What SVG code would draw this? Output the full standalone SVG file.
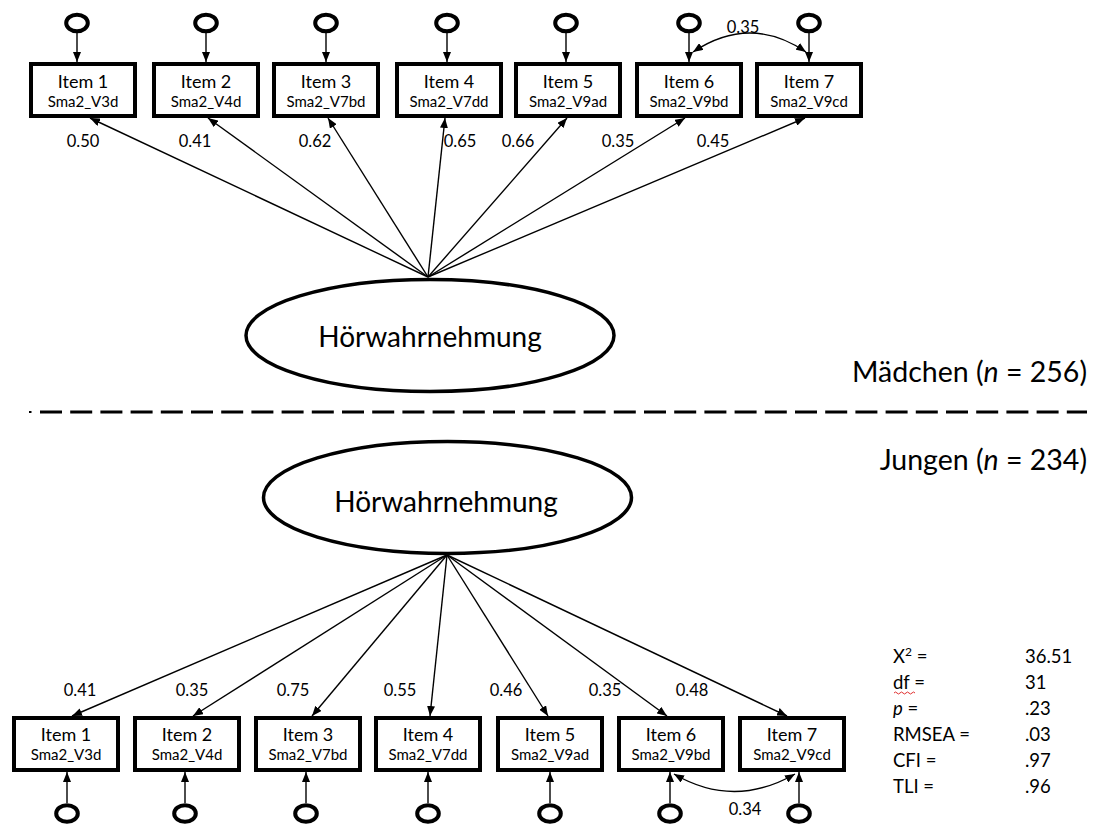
<svg xmlns="http://www.w3.org/2000/svg" width="1098" height="825" viewBox="0 0 1098 825">
<style>
text{font-family:Lato,"Open Sans","Liberation Sans",sans-serif;fill:#000}
.box{fill:#fff;stroke:#000;stroke-width:4}
.err{fill:none;stroke:#000;stroke-width:4}
.lat{fill:#fff;stroke:#000;stroke-width:3.5}
.ln{fill:none;stroke:#000;stroke-width:1.4}
.it{font-size:18px;text-anchor:middle}
.sub{font-size:15px;text-anchor:middle}
.ld{font-size:16.5px;text-anchor:middle}
.lv{font-size:28px;text-anchor:middle}
.grp{font-size:28.5px;text-anchor:end}
.st{font-size:18.5px}
</style>
<defs>
<marker id="ah" viewBox="0 0 10 8" refX="10" refY="4" markerWidth="10" markerHeight="8" markerUnits="userSpaceOnUse" orient="auto-start-reverse"><path d="M0,0 L10,4 L0,8 z" fill="#000"/></marker>
</defs>
<rect width="1098" height="825" fill="#fff"/>

<g id="connectors">
<line class="ln" x1="77" y1="33" x2="77" y2="62" marker-end="url(#ah)"/>
<line class="ln" x1="206" y1="33" x2="206" y2="62" marker-end="url(#ah)"/>
<line class="ln" x1="326" y1="33" x2="326" y2="62" marker-end="url(#ah)"/>
<line class="ln" x1="447" y1="33" x2="447" y2="62" marker-end="url(#ah)"/>
<line class="ln" x1="566" y1="33" x2="566" y2="62" marker-end="url(#ah)"/>
<line class="ln" x1="689" y1="33" x2="689" y2="62" marker-end="url(#ah)"/>
<line class="ln" x1="809" y1="33" x2="809" y2="62" marker-end="url(#ah)"/>
<path class="ln" d="M693,52 Q750,14 806,52" marker-start="url(#ah)" marker-end="url(#ah)"/>
<line class="ln" x1="428" y1="277" x2="90" y2="118" marker-end="url(#ah)"/>
<line class="ln" x1="428" y1="277" x2="208" y2="118" marker-end="url(#ah)"/>
<line class="ln" x1="428" y1="277" x2="328" y2="118" marker-end="url(#ah)"/>
<line class="ln" x1="428" y1="277" x2="445" y2="118" marker-end="url(#ah)"/>
<line class="ln" x1="428" y1="277" x2="567" y2="118" marker-end="url(#ah)"/>
<line class="ln" x1="428" y1="277" x2="685" y2="118" marker-end="url(#ah)"/>
<line class="ln" x1="428" y1="277" x2="805" y2="118" marker-end="url(#ah)"/>
<line class="ln" x1="447" y1="555" x2="72" y2="716" marker-end="url(#ah)"/>
<line class="ln" x1="447" y1="555" x2="193" y2="716" marker-end="url(#ah)"/>
<line class="ln" x1="447" y1="555" x2="312" y2="716" marker-end="url(#ah)"/>
<line class="ln" x1="447" y1="555" x2="430" y2="716" marker-end="url(#ah)"/>
<line class="ln" x1="447" y1="555" x2="548" y2="716" marker-end="url(#ah)"/>
<line class="ln" x1="447" y1="555" x2="667" y2="716" marker-end="url(#ah)"/>
<line class="ln" x1="447" y1="555" x2="787" y2="716" marker-end="url(#ah)"/>
<line class="ln" x1="67" y1="803" x2="67" y2="772" marker-end="url(#ah)"/>
<line class="ln" x1="185" y1="803" x2="185" y2="772" marker-end="url(#ah)"/>
<line class="ln" x1="306" y1="803" x2="306" y2="772" marker-end="url(#ah)"/>
<line class="ln" x1="428" y1="803" x2="428" y2="772" marker-end="url(#ah)"/>
<line class="ln" x1="550" y1="803" x2="550" y2="772" marker-end="url(#ah)"/>
<line class="ln" x1="670" y1="803" x2="670" y2="772" marker-end="url(#ah)"/>
<line class="ln" x1="799" y1="803" x2="799" y2="772" marker-end="url(#ah)"/>
<path class="ln" d="M674,774 Q734,809 795,774" marker-start="url(#ah)" marker-end="url(#ah)"/>
</g>

<g id="e1t"><ellipse class="err" cx="77" cy="23" rx="10.8" ry="8.3"/></g>
<g id="e2t"><ellipse class="err" cx="206" cy="23" rx="10.8" ry="8.3"/></g>
<g id="e3t"><ellipse class="err" cx="326" cy="23" rx="10.8" ry="8.3"/></g>
<g id="e4t"><ellipse class="err" cx="447" cy="23" rx="10.8" ry="8.3"/></g>
<g id="e5t"><ellipse class="err" cx="566" cy="23" rx="10.8" ry="8.3"/></g>
<g id="e6t"><ellipse class="err" cx="689" cy="23" rx="10.8" ry="8.3"/></g>
<g id="e7t"><ellipse class="err" cx="809" cy="23" rx="10.8" ry="8.3"/></g>

<g id="item1t"><rect class="box" x="31" y="64" width="104" height="52"/><text class="it" x="83" y="88">Item 1</text><text class="sub" x="83" y="106.5">Sma2_V3d</text></g>
<g id="item2t"><rect class="box" x="154" y="64" width="104" height="52"/><text class="it" x="206" y="88">Item 2</text><text class="sub" x="206" y="106.5">Sma2_V4d</text></g>
<g id="item3t"><rect class="box" x="274" y="64" width="104" height="52"/><text class="it" x="326" y="88">Item 3</text><text class="sub" x="326" y="106.5">Sma2_V7bd</text></g>
<g id="item4t"><rect class="box" x="397" y="64" width="104" height="52"/><text class="it" x="449" y="88">Item 4</text><text class="sub" x="449" y="106.5">Sma2_V7dd</text></g>
<g id="item5t"><rect class="box" x="516" y="64" width="104" height="52"/><text class="it" x="568" y="88">Item 5</text><text class="sub" x="568" y="106.5">Sma2_V9ad</text></g>
<g id="item6t"><rect class="box" x="637" y="64" width="104" height="52"/><text class="it" x="689" y="88">Item 6</text><text class="sub" x="689" y="106.5">Sma2_V9bd</text></g>
<g id="item7t"><rect class="box" x="757" y="64" width="104" height="52"/><text class="it" x="809" y="88">Item 7</text><text class="sub" x="809" y="106.5">Sma2_V9cd</text></g>

<g id="labels-top">
<text class="ld" x="83" y="147">0.50</text>
<text class="ld" x="195" y="147">0.41</text>
<text class="ld" x="315" y="147">0.62</text>
<text class="ld" x="460" y="147">0.65</text>
<text class="ld" x="518" y="147">0.66</text>
<text class="ld" x="618" y="147">0.35</text>
<text class="ld" x="713" y="147">0.45</text>
<text class="ld" x="743" y="33">0.35</text>
</g>

<g id="latent-top"><ellipse class="lat" cx="430" cy="335.5" rx="184" ry="56"/><text class="lv" x="430" y="347">Hörwahrnehmung</text></g>

<g id="divider">
<line x1="29" y1="412" x2="31.5" y2="412" stroke="#000" stroke-width="2"/>
<line x1="40" y1="412" x2="1087" y2="412" stroke="#000" stroke-width="3" stroke-dasharray="22 8.2"/>
</g>

<g id="group-labels">
<text class="grp" x="1087" y="382">Mädchen (<tspan font-style="italic">n</tspan> = 256)</text>
<text class="grp" x="1087" y="470">Jungen (<tspan font-style="italic">n</tspan> = 234)</text>
</g>

<g id="latent-bottom"><ellipse class="lat" cx="447.5" cy="497.5" rx="184" ry="56"/><text class="lv" x="446" y="512">Hörwahrnehmung</text></g>

<g id="item1b"><rect class="box" x="14" y="718" width="104" height="52"/><text class="it" x="66" y="741">Item 1</text><text class="sub" x="66" y="760">Sma2_V3d</text></g>
<g id="item2b"><rect class="box" x="135" y="718" width="104" height="52"/><text class="it" x="187" y="741">Item 2</text><text class="sub" x="187" y="760">Sma2_V4d</text></g>
<g id="item3b"><rect class="box" x="256" y="718" width="104" height="52"/><text class="it" x="308" y="741">Item 3</text><text class="sub" x="308" y="760">Sma2_V7bd</text></g>
<g id="item4b"><rect class="box" x="376" y="718" width="104" height="52"/><text class="it" x="428" y="741">Item 4</text><text class="sub" x="428" y="760">Sma2_V7dd</text></g>
<g id="item5b"><rect class="box" x="498" y="718" width="104" height="52"/><text class="it" x="550" y="741">Item 5</text><text class="sub" x="550" y="760">Sma2_V9ad</text></g>
<g id="item6b"><rect class="box" x="619" y="718" width="104" height="52"/><text class="it" x="671" y="741">Item 6</text><text class="sub" x="671" y="760">Sma2_V9bd</text></g>
<g id="item7b"><rect class="box" x="740" y="718" width="104" height="52"/><text class="it" x="792" y="741">Item 7</text><text class="sub" x="792" y="760">Sma2_V9cd</text></g>

<g id="e1b"><ellipse class="err" cx="67" cy="813.5" rx="10.8" ry="8.3"/></g>
<g id="e2b"><ellipse class="err" cx="185" cy="813.5" rx="10.8" ry="8.3"/></g>
<g id="e3b"><ellipse class="err" cx="306" cy="813.5" rx="10.8" ry="8.3"/></g>
<g id="e4b"><ellipse class="err" cx="428" cy="813.5" rx="10.8" ry="8.3"/></g>
<g id="e5b"><ellipse class="err" cx="550" cy="813.5" rx="10.8" ry="8.3"/></g>
<g id="e6b"><ellipse class="err" cx="670" cy="813.5" rx="10.8" ry="8.3"/></g>
<g id="e7b"><ellipse class="err" cx="799" cy="813.5" rx="10.8" ry="8.3"/></g>

<g id="labels-bottom">
<text class="ld" x="80" y="696">0.41</text>
<text class="ld" x="192" y="696">0.35</text>
<text class="ld" x="293" y="696">0.75</text>
<text class="ld" x="400" y="696">0.55</text>
<text class="ld" x="506" y="696">0.46</text>
<text class="ld" x="605" y="696">0.35</text>
<text class="ld" x="692" y="696">0.48</text>
<text class="ld" x="745" y="815">0.34</text>
</g>

<g id="fit-stats">
<text class="st" x="893" y="663">X<tspan font-size="12" dy="-7">2</tspan><tspan dy="7"> =</tspan></text>
<text class="st" x="893" y="689">df =</text>
<path d="M894,693 q1.5,-2 3,0 t3,0 t3,0 t3,0 t3,0 t3,0 t3,0" fill="none" stroke="#e03030" stroke-width="1"/>
<text class="st" x="893" y="715"><tspan font-style="italic">p</tspan> =</text>
<text class="st" x="893" y="741">RMSEA =</text>
<text class="st" x="893" y="767">CFI =</text>
<text class="st" x="893" y="793">TLI =</text>
<text class="st" x="1025" y="663">36.51</text>
<text class="st" x="1025" y="689">31</text>
<text class="st" x="1025" y="715">.23</text>
<text class="st" x="1025" y="741">.03</text>
<text class="st" x="1025" y="767">.97</text>
<text class="st" x="1025" y="793">.96</text>
</g>
</svg>
